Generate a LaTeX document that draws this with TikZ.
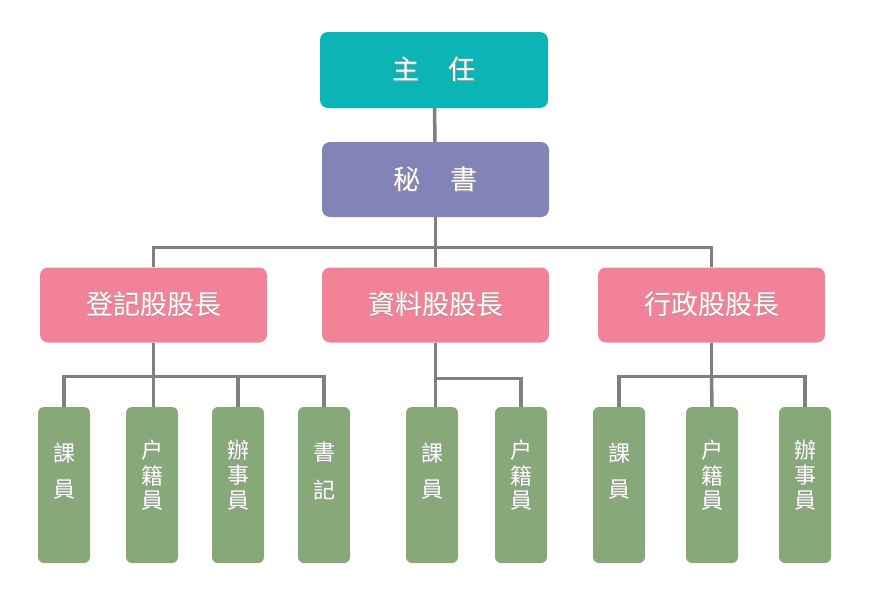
\documentclass[tikz,border=0pt]{standalone}
\usepackage{fontspec}
\newfontfamily\cjk{Noto Sans CJK TC}
\usetikzlibrary{positioning}
\usepackage{xcolor}
\definecolor{headteal}{HTML}{0BB5B5}
\definecolor{secpurple}{HTML}{8283B6}
\definecolor{chiefpink}{HTML}{F28297}
\definecolor{staffgreen}{HTML}{87A878}
\definecolor{linegray}{HTML}{808080}
% soft shadow under the white text
\newcommand{\sh}[1]{\makebox[0pt][l]{\hspace{0.9pt}\raisebox{-0.9pt}{\color{black!40}#1}}#1}
% vertical labels for the staff boxes
\newcommand{\vlab}[2][2pt]{\raisebox{#1}[0pt][0pt]{\begin{tabular}{@{}c@{}}#2\end{tabular}}}

\begin{document}
\begin{tikzpicture}[x=1pt,y=-1pt,
    box/.style={rounded corners=8pt,text=white,minimum width=227pt,minimum height=75pt,
        font=\cjk\fontsize{27}{30}\selectfont},%
    staff/.style={rounded corners=6pt,fill=staffgreen,text=white,minimum width=52pt,
        minimum height=156pt,inner sep=0pt,font=\cjk\fontsize{22}{23.5}\selectfont},%
    l/.style={draw=linegray,line width=3.5pt}]
    \useasboundingbox (0,0) rectangle (870,600);
    \node[box,fill=headteal,minimum width=228pt,minimum height=76pt] (boss) at (434,70) {\sh{主\hspace{1.1em}任}};
    \node[box,fill=secpurple] (sec) at (435.5,179.5) {\sh{秘\hspace{1.1em}書}};
    \node[box,fill=chiefpink] (reg) at (153.5,305) {\sh{登記股股長}};
    \node[box,fill=chiefpink] (dat) at (435.5,305) {\sh{資料股股長}};
    \node[box,fill=chiefpink] (adm) at (711.5,305) {\sh{行政股股長}};

    % registration section
    \node[staff] (r1) at (64,485) {\vlab[6pt]{\sh{課}\\[11.5pt]\sh{員}}};
    \node[staff] (r2) at (152,485) {\vlab{\sh{户}\\\sh{籍}\\\sh{員}}};
    \node[staff] (r3) at (238,485) {\vlab{\sh{辦}\\\sh{事}\\\sh{員}}};
    \node[staff] (r4) at (324,485) {\vlab[6pt]{\sh{書}\\[11.5pt]\sh{記}}};
    % data section
    \node[staff] (d1) at (432,485) {\vlab[6pt]{\sh{課}\\[11.5pt]\sh{員}}};
    \node[staff] (d2) at (521,485) {\vlab{\sh{户}\\\sh{籍}\\\sh{員}}};
    % administration section
    \node[staff] (a1) at (619,485) {\vlab[6pt]{\sh{課}\\[11.5pt]\sh{員}}};
    \node[staff] (a2) at (712,485) {\vlab{\sh{户}\\\sh{籍}\\\sh{員}}};
    \node[staff] (a3) at (805,485) {\vlab{\sh{辦}\\\sh{事}\\\sh{員}}};

    \draw[l] (boss) -- (sec);
    \draw[l] (sec.south) -- ++(0,30.5) coordinate (j0);
    \draw[l] (reg.north) |- (j0) -| (adm.north);
    \draw[l] (j0) -- (dat.north);

    \draw[l] (reg.south) -- ++(0,34) coordinate (j1);
    \draw[l] (r1.north) |- (j1) -| (r4.north);
    \draw[l] (j1) -- (j1 |- r2.north);
    \draw[l] (r3.north) -- (r3.north |- j1);

    \draw[l] (dat.south) -- (dat.south |- d1.north);
    \draw[l] (dat.south) ++(0,36) coordinate (j2) -| (d2.north);

    \draw[l] (adm.south) -- ++(0,34) coordinate (j3);
    \draw[l] (a1.north) |- (j3) -| (a3.north);
    \draw[l] (j3) -- (a2.north);
\end{tikzpicture}
\end{document}
